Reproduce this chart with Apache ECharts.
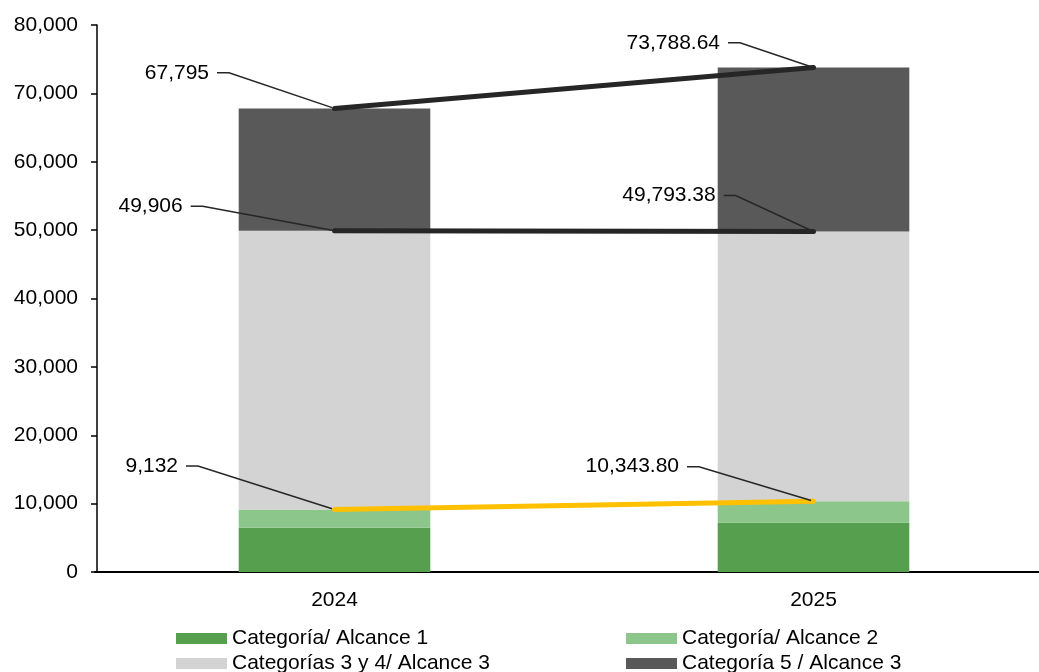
<!DOCTYPE html>
<html>
<head>
<meta charset="utf-8">
<script src="https://cdn.jsdelivr.net/npm/echarts@6/dist/echarts.min.js"></script>
<style>
  html, body { margin: 0; padding: 0; background: #fff; }
  #chart { width: 1039px; height: 672px; }
</style>
</head>
<body>
<div id="chart"></div>
<script>
// ---- data ----
const categories = ['2024', '2025'];
const seriesNames = ['Categoría/ Alcance 1', 'Categoría/ Alcance 2', 'Categorías 3 y 4/ Alcance 3', 'Categoría 5 / Alcance 3'];
const alcance1 = [6480, 7240];
const alcance2 = [2652, 3103.8];
const cat34 = [40774, 39449.58];
const cat5 = [17889, 23995.26];
const totalAlc12 = [9132, 10343.8];
const totalHasta4 = [49906, 49793.38];
const totalGeneral = [67795, 73788.64];
const labelDecimals = [0, 2];
const yTicks = [0, 10000, 20000, 30000, 40000, 50000, 60000, 70000, 80000];

// ---- styling ----
const colors = ['#559F4F', '#8CC68A', '#D3D3D3', '#595959'];
const FONT = 'Liberation Sans, Arial, sans-serif';
const FS = 21;
const GAP = 8;
const fmt = (v, d) => v.toLocaleString('en-US', { minimumFractionDigits: d, maximumFractionDigits: d });

// label offsets (text right edge / vertical middle relative to point)
const labelOffsets = {
  alc12: [[-156.5, -43.5], [-134.5, -34.6]],
  hasta4: [[-151.8, -24.6], [-97.8, -36]],
  total: [[-125.5, -35.7], [-93.5, -24.7]]
};

function lineSeries(name, data, color, offs) {
  return {
    name: name,
    type: 'line',
    data: data,
    z: 10,
    symbol: 'circle',
    symbolSize: 5,
    itemStyle: { color: color },
    lineStyle: { color: color, width: 5 },
    label: {
      show: true,
      position: 'top',
      fontFamily: FONT,
      fontSize: FS,
      color: '#000',
      backgroundColor: 'rgba(255,255,255,0)',
      padding: [0, GAP, 0, 0],
      formatter: p => fmt(p.value, labelDecimals[p.dataIndex])
    },
    labelLine: { show: true, length2: 12, lineStyle: { color: '#262626', width: 1.5 } },
    labelLayout: function (p) {
      const o = offs[p.dataIndex];
      const cx = p.rect.x + p.rect.width / 2;
      const cy = p.rect.y + p.rect.height / 2;
      return { x: cx + o[0] + GAP, y: cy + o[1], align: 'right', verticalAlign: 'middle' };
    },
    emphasis: { disabled: true },
    silent: true
  };
}

const barData = [alcance1, alcance2, cat34, cat5];
const series = barData.map((d, i) => ({
  name: seriesNames[i],
  type: 'bar',
  stack: 'total',
  barWidth: '40%',
  data: d,
  itemStyle: { color: colors[i] },
  emphasis: { disabled: true },
  silent: true
}));
series.push(lineSeries('l1', totalAlc12, '#FFC000', labelOffsets.alc12));
series.push(lineSeries('l2', totalHasta4, '#262626', labelOffsets.hasta4));
series.push(lineSeries('l3', totalGeneral, '#262626', labelOffsets.total));

const legendPos = [[176, 628], [626, 628], [176, 653], [626, 653]];
const legends = seriesNames.map((n, i) => ({
  data: [{ name: n, icon: 'rect' }],
  left: legendPos[i][0],
  top: legendPos[i][1],
  padding: 0,
  itemWidth: 51,
  itemHeight: 11,
  selectedMode: false,
  textStyle: { fontFamily: FONT, fontSize: FS, color: '#000', lineHeight: 21 }
}));

const chart = echarts.init(document.getElementById('chart'));
chart.setOption({
  animation: false,
  backgroundColor: '#fff',
  grid: { left: 95, top: 25, width: 958, height: 547, outerBoundsMode: 'none', containLabel: false },
  legend: legends,
  xAxis: {
    type: 'category',
    data: categories,
    axisLine: { lineStyle: { color: '#000', width: 2 } },
    axisTick: { show: false },
    axisLabel: { fontFamily: FONT, fontSize: FS, color: '#000', margin: 18 }
  },
  yAxis: {
    type: 'value',
    offset: -2,
    min: yTicks[0],
    max: yTicks[yTicks.length - 1],
    interval: yTicks[1] - yTicks[0],
    splitLine: { show: false },
    axisLine: { show: true, lineStyle: { color: '#000', width: 1.5 } },
    axisTick: { show: true, length: 6, lineStyle: { color: '#000', width: 1.5 } },
    axisLabel: {
      fontFamily: FONT, fontSize: FS, color: '#000', margin: 19,
      formatter: v => fmt(v, 0)
    }
  },
  series: series
});
</script>
</body>
</html>
